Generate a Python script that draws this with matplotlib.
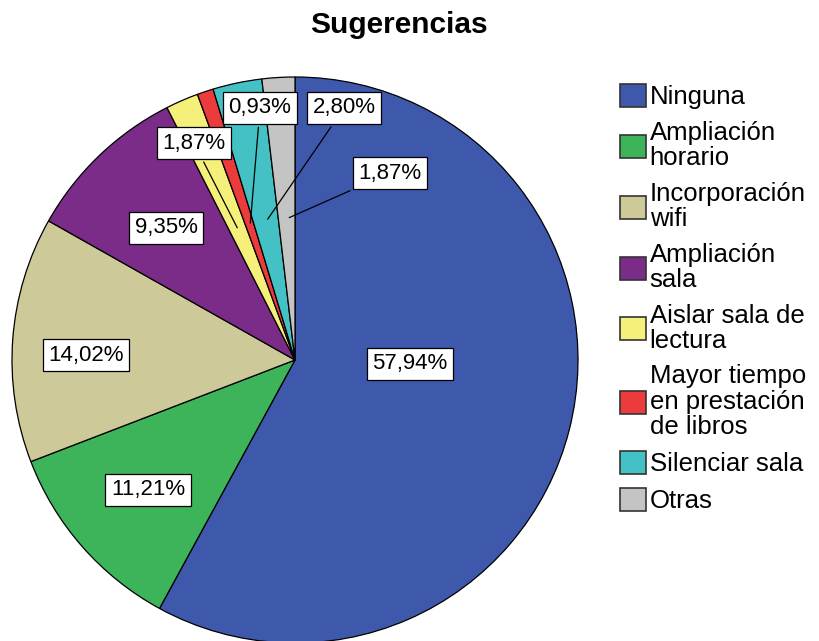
import numpy as np
from matplotlib import pyplot as plt
from matplotlib.patches import Patch

plt.rcParams['font.family'] = ['Liberation Sans', 'DejaVu Sans']

# Sugerencias - percentages
categories = ['Ninguna', 'Ampliación\nhorario', 'Incorporación\nwifi', 'Ampliación\nsala',
              'Aislar sala de\nlectura', 'Mayor tiempo\nen prestación\nde libros',
              'Silenciar sala', 'Otras']
percents = [57.94, 11.21, 14.02, 9.35, 1.87, 0.93, 2.80, 1.87]
colors = ['#3E58AC', '#3DB35A', '#CEC999', '#7A2C88', '#F4F07A', '#EC3B3D', '#44C1C4', '#C4C4C4']

# label box positions in image pixels (x, y from top); small slices get leader lines
label_pos = [(410, 364), (148, 490), (86, 355), (166, 228), (194, 143), (260, 108), (344, 108), (390, 173)]
leader = [False, False, False, False, True, True, True, True]

W, H = 819, 641
fig = plt.figure(figsize=(W / 100, H / 100), dpi=100)
ax = fig.add_axes([0, 0, 1, 1])

cx, cy, R = 295, H - 360, 283
wedges, _ = ax.pie(percents, colors=colors, startangle=90, counterclock=False,
                   center=(cx, cy), radius=R, frame=True,
                   wedgeprops=dict(edgecolor='black', linewidth=0.9))
ax.set_xlim(0, W)
ax.set_ylim(0, H)
ax.set_aspect('equal')
ax.axis('off')

box = dict(boxstyle='square,pad=0.25', facecolor='white', edgecolor='black', linewidth=0.9)
for w, p, (lx, ly), lead in zip(wedges, percents, label_pos, leader):
    txt = f'{p:.2f}%'.replace('.', ',')
    if lead:
        mid = np.deg2rad((w.theta1 + w.theta2) / 2)
        px, py = cx + 0.5 * R * np.cos(mid), cy + 0.5 * R * np.sin(mid)
        ax.annotate(txt, xy=(px, py), xytext=(lx, H - ly), ha='center', va='center',
                    fontsize=16, bbox=box,
                    arrowprops=dict(arrowstyle='-', color='black', lw=0.9))
    else:
        ax.text(lx, H - ly, txt, ha='center', va='center', fontsize=16, bbox=box)

fig.text(399 / W, 1 - 25 / H, 'Sugerencias', ha='center', va='center',
         fontsize=21.5, fontweight='bold')

handles = [Patch(facecolor=c, edgecolor='#333333', linewidth=1.2) for c in colors]
leg = fig.legend(handles, categories, loc='upper left', bbox_to_anchor=(620 / W, 1 - 84 / H),
                 frameon=False, fontsize=18.5, borderpad=0, borderaxespad=0,
                 handlelength=1.0, handleheight=1.0, handletextpad=0.15, labelspacing=0.45)
for t in leg.get_texts():
    t.set_linespacing(1.07)

plt.savefig('out.png', dpi=100)
